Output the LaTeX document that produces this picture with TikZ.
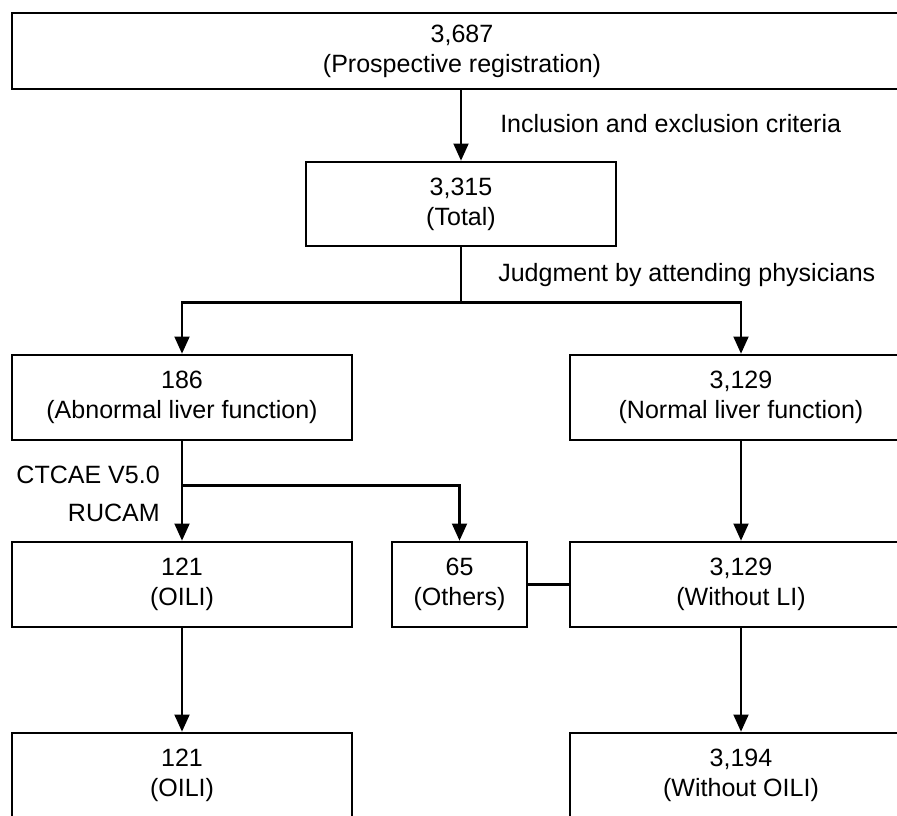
\documentclass[tikz,border=0pt]{standalone}
\usepackage{fontspec}
\setmainfont{Liberation Sans}
\usepackage{tikz}
\usetikzlibrary{arrows.meta,positioning,calc}
\tikzset{
    box/.style={draw,line width=1.8pt,rectangle,align=center,inner sep=0pt,minimum height=2.125cm},
    wide/.style={box,minimum width=8.5cm},
    note/.style={inner sep=0pt},
    flow/.style={-{Triangle[width=0.37cm,length=0.43cm]},line width=1.8pt},
    line/.style={-,line width=1.8pt},
}

\begin{document}
\begin{tikzpicture}[every node/.style={font=\fontsize{17.8}{21.5}\selectfont}]
\useasboundingbox (0,0) rectangle (22.425,20.375);
% --- Top ---
                \node[box,minimum width=22.5cm,minimum height=1.9cm] (reg) at (11.55,19.1) {3,687\\(Prospective registration)};
                \node[box,minimum width=7.75cm,minimum height=2.1cm] (total) at (11.525,15.275) {3,315\\(Total)};
                \node[note,anchor=west] (incl) at (12.5,17.275) {Inclusion and exclusion criteria};
                \node[note,anchor=west] (judge) at (12.45,13.5) {Judgment by attending physicians};
% --- Liver function ---
                \node[wide] (abn) at (4.55,10.4375) {186\\(Abnormal liver function)};
                \node[wide,minimum width=8.55cm] (norm) at (18.525,10.4375) {3,129\\(Normal liver function)};
                \node[note,anchor=east] (ctcae) at (4.0,8.5) {CTCAE V5.0};
                \node[note,anchor=east] (rucam) at (4.0,7.55) {RUCAM};
% --- Classification ---
                \node[wide] (oili) at (4.55,5.7625) {121\\(OILI)};
                \node[box,minimum width=3.375cm] (others) at (11.4875,5.7625) {65\\(Others)};
                \node[wide,minimum width=8.55cm] (noli) at (18.525,5.7625) {3,129\\(Without LI)};
% --- Bottom ---
                \node[wide] (oilib) at (4.55,0.9875) {121\\(OILI)};
                \node[wide,minimum width=8.55cm] (nooili) at (18.525,0.9875) {3,194\\(Without OILI)};
% Branch points
                \coordinate (split) at ($(total.south)+(0,-1.375)$);
                \coordinate (fork) at ($(abn.south)+(0,-1.1)$);
% --- Arrows ---
                \draw[flow] (reg.south -| total.south) -- (total.north);
                \draw[line] (total.south) -- (split);
                \draw[flow] (split) -| (abn.north);
                \draw[flow] (split) -| (norm.north);
                \draw[flow] (abn.south) -- (oili.north);
                \draw[flow] (fork) -| (others.north);
                \draw[flow] (norm.south) -- (noli.north);
                \draw[line] (others.east) -- (noli.west);
                \draw[flow] (oili.south) -- (oilib.north);
                \draw[flow] (noli.south) -- (nooili.north);
\end{tikzpicture}
\end{document}
